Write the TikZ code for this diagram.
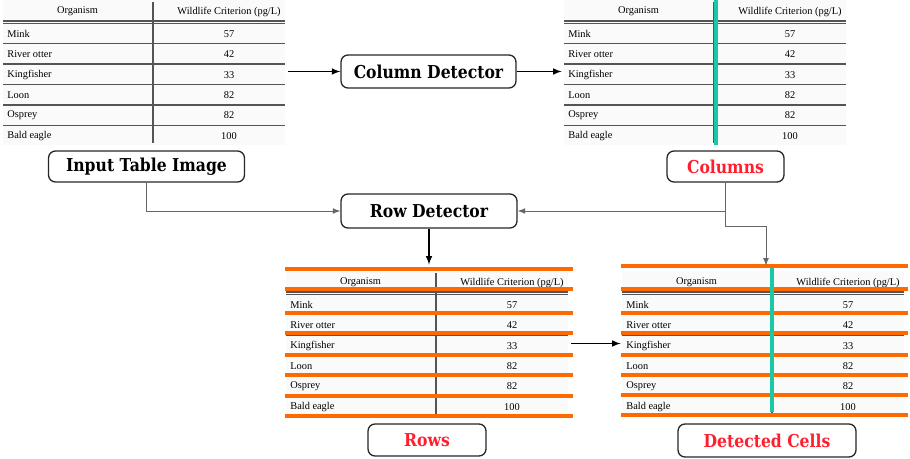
\documentclass[tikz,border=0pt]{standalone}
\usepackage{fontspec}
\usetikzlibrary{positioning}
\newfontfamily\tabfont{Liberation Serif}
\newfontfamily\boxfont{DejaVu Serif}[FakeStretch=0.88]
\definecolor{rowcol}{HTML}{FF6A00}
\definecolor{colcol}{HTML}{18C9A7}
\definecolor{labred}{HTML}{FF1E2D}
\definecolor{rule}{HTML}{555555}

\tikzset{
	stepbox/.style={draw=black!85, line width=0.75pt, rounded corners=4pt, fill=white,
		font=\boxfont\bfseries\fontsize{10.1}{12}\selectfont, inner sep=0pt},
	tabarea/.style={inner sep=0pt, minimum width=5.64cm, minimum height=2.9cm},
	celltext/.style={font=\tabfont\fontsize{5.9}{7}\selectfont, inner sep=0pt},
	orange rule/.style={rowcol, line width=2.2pt},
	teal rule/.style={colcol, line width=2.3pt},
	flow/.style={->, line width=0.7pt},
	feed/.style={->, black!60, line width=0.5pt},
}

% table drawn with its top left corner at (#1,#2), pixel units
\newcommand\wildtable[3]{
	\begin{scope}[shift={(#1,#2)}]
		\fill[gray!4] (0,0) rectangle (282,145);
		\node[tabarea] (#3) at (141,72.5) {};
		\draw[rule, line width=0.6pt] (0,21) -- (282,21) (0,23.5) -- (282,23.5);
		\foreach \yy in {43.5,64,84.5,105,125.5}
			\draw[rule, line width=0.6pt] (0,\yy) -- (282,\yy);
		\draw[rule, line width=0.6pt] (150,2) -- (150,143);
		\node[celltext] at (74.5,11.5) {Organism};
		\node[celltext] at (226,11.5) {Wildlife Criterion (pg/L)};
		\foreach \name/\val [count=\i] in {Mink/57, River otter/42, Kingfisher/33, Loon/82, Osprey/82, Bald eagle/100}{
			\node[celltext, anchor=west] at (4,{34+(\i-1)*20.4}) {\name};
			\node[celltext] at (226,{34+(\i-1)*20.4}) {\val};
		}
	\end{scope}
}

\begin{document}
\begin{tikzpicture}[x=0.02cm, y=-0.02cm, >=latex]
	\useasboundingbox (0,0) rectangle (910,459);

	% the four tables
	\wildtable{3}{0}{tabA}
	\wildtable{564}{0}{tabB}
	\wildtable{286}{271}{tabC}
	\wildtable{622}{271}{tabD}

	% detected columns
	\draw[teal rule] (716,0) -- (716,145);
	% detected rows
	\foreach \yy in {269,289,313,333,355,375,396,416}
		\draw[orange rule] (285,\yy) -- (573,\yy);
	\foreach \yy in {266,289,313,333,355,375,395,415}
		\draw[orange rule] (621,\yy) -- (908,\yy);
	\draw[teal rule] (772,268) -- (772,412);

	% boxes
	\node[stepbox, minimum width=3.92cm, minimum height=0.62cm] (inbox) at (146.5,166.5) {Input Table Image};
	\node[stepbox, minimum width=3.5cm, minimum height=0.66cm] (coldet) at (428.5,71.5) {Column Detector};
	\node[stepbox, minimum width=2.34cm, minimum height=0.62cm, text=labred] (cols) at (725.5,166.5) {Columns};
	\node[stepbox, minimum width=3.52cm, minimum height=0.68cm] (rowdet) at (429,211) {Row Detector};
	\node[stepbox, minimum width=2.36cm, minimum height=0.64cm, text=labred] (rows) at (427,440) {Rows};
	\node[stepbox, minimum width=3.56cm, minimum height=0.66cm, text=labred] (cells) at (767,440.5) {Detected Cells};

	% connectors
	\draw[flow, shorten <=0.06cm] (tabA.east |- coldet.west) -- (coldet.west);
	\draw[flow, shorten >=0.04cm] (coldet.east) -- (tabB.west |- coldet.east);
	\draw[feed] (inbox.south) |- (rowdet.west);
	\draw[feed] (cols.south) |- (rowdet.east);
	\draw[feed, shorten >=0.1cm] (cols.south) -- ++(0,44) -| ([xshift=0.06cm]tabD.north);
	\draw[flow, shorten >=0.12cm] (rowdet.south) -- (rowdet.south |- tabC.north);
	\draw[flow, shorten <=0.06cm, shorten >=0.02cm] (tabC.east) -- (tabD.west);
\end{tikzpicture}
\end{document}
